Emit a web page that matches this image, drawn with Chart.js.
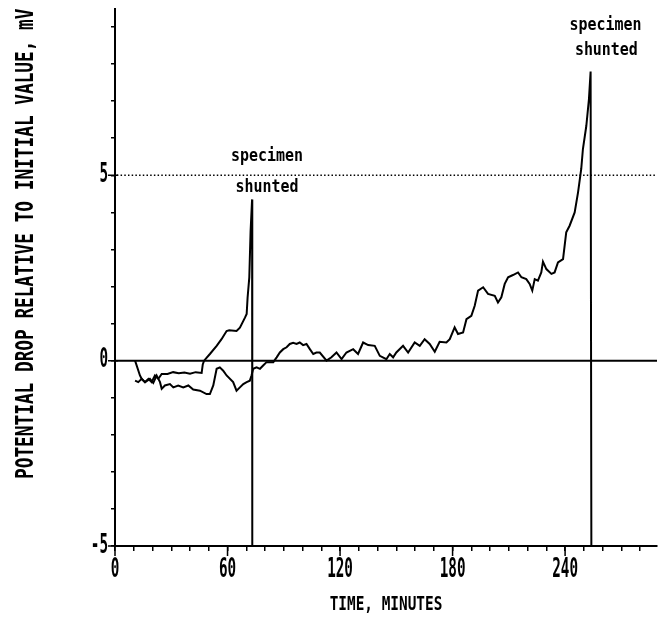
<!DOCTYPE html>
<html><head><meta charset="utf-8">
<script src="https://cdn.jsdelivr.net/npm/chart.js@4.4.1/dist/chart.umd.min.js"></script>
<style>html,body{margin:0;padding:0;background:#fff;}#wrap{width:659px;height:617px;}</style>
</head><body><div id="wrap"><canvas id="c" width="659" height="617"></canvas></div>
<script>
// ---- data (minutes, mV relative to initial value) ----
const SPEC1_TIME = [10.7,13.3,14.2,16,17.8,19.5,21.3,23.1,24.9,28,31,34,37,40,43,46.2,46.8,47.5,50.6,54.2,56.8,59.5,60.9,64.8,66.6,69.3,70.2,70.7,71.6,72.3,73.1,73.2];
const SPEC1_MV   = [0,-0.40,-0.49,-0.58,-0.49,-0.58,-0.40,-0.49,-0.36,-0.36,-0.31,-0.34,-0.32,-0.35,-0.31,-0.33,-0.10,0,0.18,0.40,0.58,0.80,0.82,0.80,0.89,1.16,1.26,1.70,2.24,3.50,4.35,-5];

const SPEC2_TIME = [10.7,12.4,14.2,16,18.6,20.4,22.2,24,24.9,26.6,29.3,31.1,33.7,36.4,39.1,41.7,45.3,48.8,50.6,52.4,54.2,55.9,57.7,59.5,63,64.8,66.6,68.4,70.2,71.9,72.8,73.7,75.5,77.3,79,80.8,84.4,86.2,87.9,89.7,91.5,93.2,95,96.8,98.5,100.3,102.1,103.9,105.7,107.4,109.2,112.8,115.4,118.1,120.8,123.4,127,129.6,132.3,135,138.5,141.2,144.7,146.5,148.3,150,153.6,156.3,159.8,162.5,165.1,167.8,170.5,173.1,176.7,178.5,181.1,182.9,185.6,187.4,190,191.8,193.6,196.3,198.9,202.5,204.2,206,207.8,209.6,212.2,214.9,216.7,219.3,221.1,222.5,223.8,225.5,227.3,228.2,230,232.7,234.4,236.2,238.9,240.6,242.4,245.1,246.9,248.6,249.5,251.3,252.7,253.6,254];
const SPEC2_MV   = [-0.54,-0.58,-0.49,-0.58,-0.49,-0.60,-0.40,-0.58,-0.76,-0.67,-0.63,-0.72,-0.67,-0.72,-0.67,-0.78,-0.81,-0.90,-0.90,-0.67,-0.22,-0.18,-0.27,-0.40,-0.58,-0.81,-0.72,-0.63,-0.58,-0.54,-0.40,-0.22,-0.18,-0.22,-0.13,-0.04,-0.04,0.09,0.22,0.31,0.36,0.45,0.48,0.45,0.49,0.42,0.45,0.31,0.18,0.22,0.22,0.0,0.09,0.22,0.04,0.22,0.31,0.18,0.49,0.42,0.40,0.13,0.04,0.18,0.09,0.22,0.40,0.22,0.49,0.40,0.58,0.45,0.24,0.51,0.49,0.58,0.90,0.72,0.76,1.12,1.21,1.48,1.89,1.98,1.80,1.75,1.57,1.71,2.07,2.25,2.31,2.38,2.25,2.20,2.07,1.89,2.20,2.16,2.38,2.67,2.47,2.34,2.38,2.65,2.74,3.46,3.64,4.00,4.54,5.17,5.71,6.33,7.05,7.80,-5];

const X_TICK_LABELS = [0,60,120,180,240];
const Y_TICK_LABELS = [-5,0,5];
const ZERO_LEVEL = 0;
const REFERENCE_LEVEL = 5;

// ---- typewriter-like condensed text ----
const FONT = "'DejaVu Sans Mono', 'Liberation Mono', monospace";
const SQUEEZE = {26:0.55, 24:0.74, 20:0.72, 18:0.83};
const _fill = CanvasRenderingContext2D.prototype.fillText;
CanvasRenderingContext2D.prototype.fillText = function(t, x, y, mw) {
  const m = /(\d+(?:\.\d+)?)px/.exec(this.font);
  const k = m ? SQUEEZE[Math.round(parseFloat(m[1]))] : undefined;
  if (!k) { return mw === undefined ? _fill.call(this, t, x, y) : _fill.call(this, t, x, y, mw); }
  this.save(); this.translate(x, y); this.scale(k, 1); _fill.call(this, t, 0, 0); this.restore();
};

const pts = (xs, ys) => xs.map((x, i) => ({x, y: ys[i]}));
const X_MAX = 289;

const notes = {
  id: 'notes',
  afterDatasetsDraw(chart, args, opts) {
    const {ctx, scales: {x, y}} = chart;
    ctx.save();
    ctx.fillStyle = '#000';
    ctx.font = 'bold 18px ' + FONT;
    ctx.textAlign = 'center';
    ctx.textBaseline = 'middle';
    opts.items.forEach(it => ctx.fillText(it.text, x.getPixelForValue(it.x), y.getPixelForValue(it.y)));
    ctx.restore();
  }
};

// longer tick marks at the labelled values
const majorTicks = {
  id: 'majorTicks',
  afterDraw(chart) {
    const {ctx, scales: {x, y}} = chart;
    ctx.save();
    ctx.strokeStyle = '#000';
    ctx.lineWidth = 1.5;
    ctx.beginPath();
    X_TICK_LABELS.forEach(v => { const px = x.getPixelForValue(v); ctx.moveTo(px, x.top); ctx.lineTo(px, x.top + 10); });
    Y_TICK_LABELS.forEach(v => { const py = y.getPixelForValue(v); ctx.moveTo(y.right - 7, py); ctx.lineTo(y.right + 3, py); });
    ctx.stroke();
    ctx.restore();
  }
};

new Chart(document.getElementById('c'), {
  type: 'scatter',
  data: {
    datasets: [
      {data: [{x:0,y:ZERO_LEVEL},{x:X_MAX,y:ZERO_LEVEL}], showLine:true, borderColor:'#000', borderWidth:2, pointRadius:0},
      {data: [{x:1,y:REFERENCE_LEVEL},{x:X_MAX,y:REFERENCE_LEVEL}], showLine:true, borderColor:'#000', borderWidth:1.5, borderDash:[1.5,2.2], pointRadius:0},
      {label:'specimen 1', data: pts(SPEC1_TIME, SPEC1_MV), showLine:true, borderColor:'#000', borderWidth:2, pointRadius:0, tension:0},
      {label:'specimen 2', data: pts(SPEC2_TIME, SPEC2_MV), showLine:true, borderColor:'#000', borderWidth:2, pointRadius:0, tension:0}
    ]
  },
  options: {
    responsive: false,
    devicePixelRatio: 1,
    animation: false,
    layout: {padding: {left: 0, right: 2, top: 8.5, bottom: 0}},
    plugins: {
      legend: {display: false},
      tooltip: {enabled: false},
      notes: {items: [
        {text:'specimen', x:81, y:5.52},
        {text:'shunted',  x:81, y:4.68},
        {text:'specimen', x:261.5, y:9.05},
        {text:'shunted',  x:262, y:8.38}
      ]}
    },
    scales: {
      x: {
        type: 'linear', min: 0, max: X_MAX,
        border: {display: true, color: '#000', width: 2},
        grid: {drawOnChartArea: false, color: '#000', tickColor: '#000', tickLength: 5, lineWidth: 1.5},
        ticks: {stepSize: 10, autoSkip: false, maxRotation: 0, includeBounds: false, padding: 4, color: '#000',
          font: {family: FONT, size: 26, weight: 'bold'},
          callback: v => X_TICK_LABELS.includes(Math.round(v)) ? String(Math.round(v)) : ''},
        title: {display: true, text: 'TIME, MINUTES', color: '#000', font: {family: FONT, size: 20, weight: 'bold'}, padding: {top: 1, bottom: 0}},
        afterFit: s => { s.height = 71; s.paddingRight = 0; }
      },
      y: {
        type: 'linear', min: -5, max: 9.5,
        border: {display: true, color: '#000', width: 2},
        grid: {drawOnChartArea: false, color: '#000', tickColor: '#000', tickLength: 4, lineWidth: 1.5},
        ticks: {stepSize: 1, autoSkip: false, includeBounds: false, padding: 3, color: '#000',
          font: {family: FONT, size: 26, weight: 'bold'},
          callback: v => Y_TICK_LABELS.includes(Math.round(v)) ? String(Math.round(v)) : ''},
        title: {display: true, align: 'end', text: 'POTENTIAL DROP RELATIVE TO INITIAL VALUE, mV', color: '#000', font: {family: FONT, size: 24, weight: 'bold'}, padding: {top: 12, bottom: 0}},
        afterFit: s => { s.width = 115; s.paddingTop = 0; s.paddingBottom = 0; }
      }
    }
  },
  plugins: [notes, majorTicks]
});
</script>
</body></html>
